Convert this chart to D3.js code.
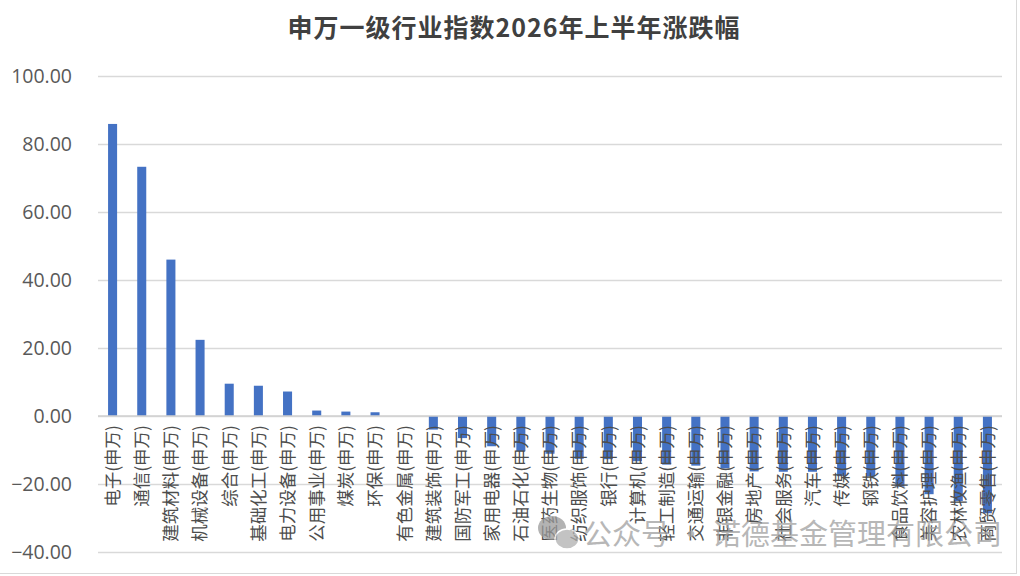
<!DOCTYPE html>
<html><head><meta charset="utf-8">
<script src="https://cdn.jsdelivr.net/npm/d3@7/dist/d3.min.js"></script>
<style>html,body{margin:0;padding:0;background:#fff;}svg{display:block;}</style>
</head><body>
<svg id="chart" width="1020" height="576"></svg>
<script>
const title = "申万一级行业指数2026年上半年涨跌幅";
const categories = ["电子(申万)","通信(申万)","建筑材料(申万)","机械设备(申万)","综合(申万)","基础化工(申万)","电力设备(申万)","公用事业(申万)","煤炭(申万)","环保(申万)","有色金属(申万)","建筑装饰(申万)","国防军工(申万)","家用电器(申万)","石油石化(申万)","医药生物(申万)","纺织服饰(申万)","银行(申万)","计算机(申万)","轻工制造(申万)","交通运输(申万)","非银金融(申万)","房地产(申万)","社会服务(申万)","汽车(申万)","传媒(申万)","钢铁(申万)","食品饮料(申万)","美容护理(申万)","农林牧渔(申万)","商贸零售(申万)"];
const values = [85.9,73.3,46.0,22.4,9.5,8.9,7.2,1.6,1.3,1.1,0.0,-4.0,-6.5,-8.9,-10.3,-11.1,-12.6,-12.7,-13.3,-14.3,-14.6,-15.4,-16.3,-16.4,-16.4,-17.7,-17.8,-20.8,-23.0,-25.0,-28.6];
const yTicks = [100,80,60,40,20,0,-20,-40];
const watermark = "公众号 · 诺德基金管理有限公司";

const svg = d3.select("#chart");
const x = d3.scaleBand().domain(categories).range([98,1002]).paddingInner(0.69).paddingOuter(0.345);
const y = d3.scaleLinear().domain([-40,100]).range([552,76]);

// frame
svg.append("rect").attr("x",-1).attr("y",-1).attr("width",1017.5).attr("height",574.5)
  .attr("fill","none").attr("stroke","#d9d9d9").attr("stroke-width",1);

// title
svg.append("text").attr("x",514).attr("y",37).attr("text-anchor","middle")
  .attr("font-family","'Noto Sans CJK SC'").attr("font-weight",600).attr("font-size",25)
  .attr("letter-spacing",1.0).attr("fill","#404040").text(title);

// grid
const yAxis = d3.axisLeft(y).tickValues(yTicks).tickSize(-(1002-98)).tickPadding(26)
  .tickFormat(d3.format(".2f"));
const g = svg.append("g").attr("transform","translate(98,0)").call(yAxis);
g.select(".domain").remove();
g.selectAll(".tick line").attr("stroke","#d9d9d9").attr("stroke-width",1.3);
g.selectAll(".tick text").attr("font-family","'Open Sans'").attr("font-size",19.5).attr("fill","#595959");

// bars
svg.append("g").selectAll("rect").data(values).join("rect")
  .attr("x",(d,i)=>x(categories[i]))
  .attr("width",x.bandwidth())
  .attr("y",d=>y(Math.max(0,d)))
  .attr("height",d=>Math.abs(y(d)-y(0)))
  .attr("fill","#4472C4");

// zero line
svg.append("line").attr("x1",98).attr("x2",1002).attr("y1",y(0)).attr("y2",y(0))
  .attr("stroke","#d0d0d0").attr("stroke-width",1.5);

// category labels
svg.append("g").selectAll("text").data(categories).join("text")
  .attr("transform",d=>`translate(${x(d)+x.bandwidth()/2},${y(0)+9}) rotate(-90)`)
  .attr("text-anchor","end").attr("dy","0.36em")
  .attr("font-family","'Noto Sans CJK SC'").attr("font-size",17.5).attr("fill","#4d4d4d")
  .text(d=>d);

// watermark
const wm = svg.append("g").attr("opacity",0.75);
wm.append("ellipse").attr("cx",552).attr("cy",528).attr("rx",14).attr("ry",12).attr("fill","#9a9a9a");
wm.append("ellipse").attr("cx",567).attr("cy",539).attr("rx",12).attr("ry",10).attr("fill","#b0b0b0").attr("stroke","#fff").attr("stroke-width",1.5);
wm.append("text").attr("x",583).attr("y",545).attr("font-family","'Noto Sans CJK SC'")
  .attr("font-size",29).attr("fill","#a0a0a0").text(watermark);
</script>
</body></html>
